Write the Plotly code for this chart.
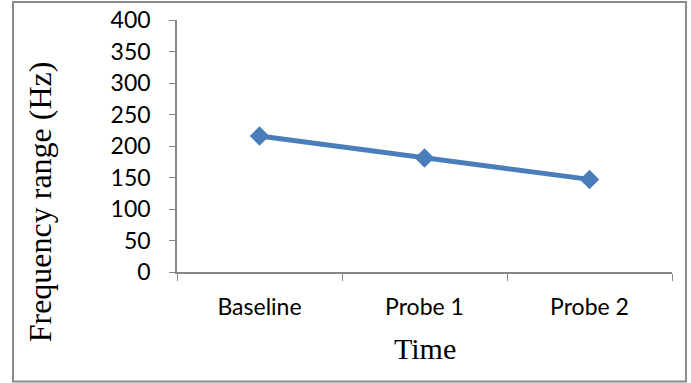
import plotly.graph_objects as go

categories = ["Baseline", "Probe 1", "Probe 2"]
frequency_range = [216, 181, 147]
y_title = "Frequency range (Hz)"
x_title = "Time"

blue = "#4a7ebb"
axis_gray = "#868686"

fig = go.Figure(
    go.Scatter(
        x=categories,
        y=frequency_range,
        mode="lines+markers",
        line=dict(color=blue, width=5),
        marker=dict(symbol="diamond", size=15, color=blue),
        showlegend=False,
    )
)

tick_font = dict(family="Lato", size=23, color="#000000")

fig.update_layout(
    width=691,
    height=383,
    margin=dict(l=177, r=19, t=20, b=111),
    paper_bgcolor="white",
    plot_bgcolor="white",
    xaxis=dict(
        type="category",
        range=[-0.5, 2.5],
        tickson="boundaries",
        ticks="outside",
        ticklen=7,
        tickcolor=axis_gray,
        showline=True,
        linecolor=axis_gray,
        linewidth=1.5,
        showgrid=False,
        zeroline=False,
        automargin=False,
        tickfont=tick_font,
        ticklabelstandoff=14,
    ),
    yaxis=dict(
        range=[0, 400],
        dtick=50,
        ticks="outside",
        ticklen=6,
        tickcolor=axis_gray,
        showline=True,
        linecolor=axis_gray,
        linewidth=1.5,
        showgrid=False,
        zeroline=False,
        automargin=False,
        tickfont=tick_font,
        ticklabelstandoff=14,
    ),
    annotations=[
        dict(
            text=y_title,
            textangle=-90,
            xref="paper",
            yref="paper",
            x=-0.275,
            y=0.28,
            xanchor="center",
            yanchor="middle",
            showarrow=False,
            font=dict(family="Liberation Serif", size=32, color="#000000"),
        ),
        dict(
            text=x_title,
            xref="paper",
            yref="paper",
            x=0.5,
            y=-0.305,
            xanchor="center",
            yanchor="middle",
            showarrow=False,
            font=dict(family="Liberation Serif", size=30, color="#000000"),
        ),
    ],
    shapes=[
        dict(
            type="rect",
            xref="paper",
            yref="paper",
            x0=-0.3313,
            x1=1.0283,
            y0=-0.4343,
            y1=1.0715,
            line=dict(color="#8c8c8c", width=2),
            fillcolor="rgba(0,0,0,0)",
            layer="below",
        )
    ],
)

fig.write_html("out.html")
